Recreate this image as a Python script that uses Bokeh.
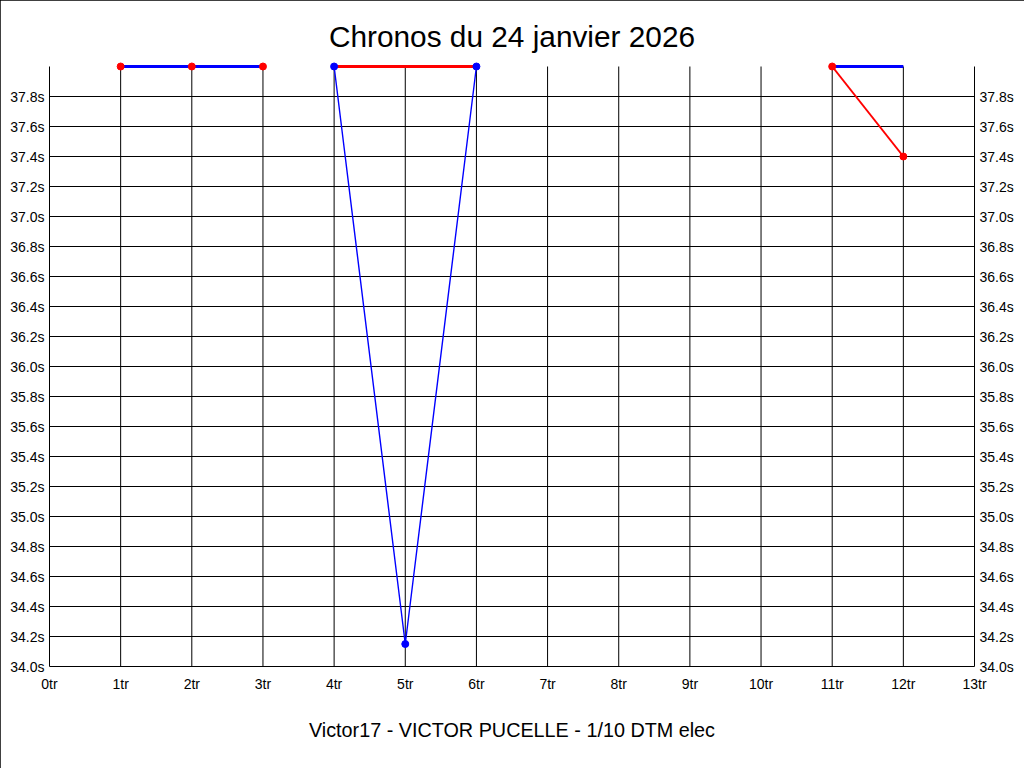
from bokeh.plotting import figure
from bokeh.models import Range1d, FixedTicker, PrintfTickFormatter, LinearAxis, Title
from bokeh.embed import file_html
from bokeh.resources import INLINE

# ---------------- data ----------------
title_text = "Chronos du 24 janvier 2026"
subtitle_text = "Victor17 - VICTOR PUCELLE - 1/10 DTM elec"

lap_ticks = [0, 1, 2, 3, 4, 5, 6, 7, 8, 9, 10, 11, 12, 13]
grid_laps = [1, 2, 3, 4, 5, 6, 7, 8, 9, 10, 11, 12]
time_ticks = [34.0, 34.2, 34.4, 34.6, 34.8, 35.0, 35.2, 35.4, 35.6, 35.8,
              36.0, 36.2, 36.4, 36.6, 36.8, 37.0, 37.2, 37.4, 37.6, 37.8]

lap_min, lap_max = 0, 13
time_min, time_max = 34.0, 38.0

# thin blue series (laps 4-6)
blue_laps = [4, 5, 6]
blue_times = [38.0, 34.15, 38.0]

# thin red series (laps 11-12)
red_laps = [11, 12]
red_times = [38.0, 37.4]

# red markers
red_dot_laps = [1, 2, 3, 11, 12]
red_dot_times = [38.0, 38.0, 38.0, 38.0, 37.4]

# thick segments along the ceiling
blue_top_from = [1, 11]
blue_top_to = [3, 12]
red_top_from = [4]
red_top_to = [6]

# ---------------- layout ----------------
px_per_lap = 925 / 13.0
px_per_sec = 150.0
pad_x = 3 / px_per_lap
x_start, x_end = lap_min - pad_x, lap_max + pad_x
y_start, y_end = time_min - 3 / px_per_sec, time_max + 6 / px_per_sec

FONT = "Liberation Sans"

p = figure(width=1024, height=768, x_range=Range1d(x_start, x_end),
           y_range=Range1d(y_start, y_end), output_backend="svg",
           toolbar_location=None,
           min_border_left=46, min_border_right=47,
           min_border_top=60, min_border_bottom=99)
p.outline_line_color = None
p.xgrid.visible = False
p.ygrid.visible = False
p.background_fill_color = "white"
p.border_fill_color = "white"
p.styles = {"outline": "1px solid black", "outline-offset": "-1px"}

p.title = Title(text=title_text, align="center", text_font=FONT,
                text_font_size="29.8px", text_font_style="normal",
                text_color="black", standoff=16)
p.add_layout(Title(text=subtitle_text, align="center", text_font=FONT,
                   text_font_size="19.8px", text_font_style="normal",
                   text_color="black", standoff=45), "below")


def style_axis(ax, fmt, standoff):
    ax.formatter = PrintfTickFormatter(format=fmt)
    ax.axis_line_color = None
    ax.major_tick_line_color = None
    ax.minor_tick_line_color = None
    ax.major_tick_out = 0
    ax.major_tick_in = 0
    ax.major_label_text_font = FONT
    ax.major_label_text_font_size = "14px"
    ax.major_label_text_color = "black"
    ax.major_label_standoff = standoff


xaxis = p.xaxis[0]
xaxis.ticker = FixedTicker(ticks=lap_ticks)
style_axis(xaxis, "%dtr", 6)

yaxis = p.yaxis[0]
yaxis.ticker = FixedTicker(ticks=time_ticks)
style_axis(yaxis, "%.1fs", 2)

raxis = LinearAxis(ticker=FixedTicker(ticks=time_ticks))
style_axis(raxis, "%.1fs", 2)
p.add_layout(raxis, "right")

# horizontal grid lines
p.segment(x0=[lap_min] * len(time_ticks), x1=[lap_max] * len(time_ticks),
          y0=time_ticks, y1=time_ticks, line_color="black", line_width=1)
# vertical grid lines
p.segment(x0=grid_laps, x1=grid_laps, y0=[time_min] * len(grid_laps),
          y1=[time_max] * len(grid_laps), line_color="black", line_width=1)
# axis frame lines (left, right)
p.segment(x0=[lap_min, lap_max], x1=[lap_min, lap_max], y0=[time_min, time_min],
          y1=[time_max, time_max], line_color="black", line_width=1)

# thick ceiling segments
p.segment(x0=blue_top_from, x1=blue_top_to, y0=[time_max] * len(blue_top_from),
          y1=[time_max] * len(blue_top_from), line_color="#0000ff", line_width=3)
p.segment(x0=red_top_from, x1=red_top_to, y0=[time_max] * len(red_top_from),
          y1=[time_max] * len(red_top_from), line_color="#ff0000", line_width=3)

# thin series lines
p.line(blue_laps, blue_times, line_color="#0000ff", line_width=1.4)
p.line(red_laps, red_times, line_color="#ff0000", line_width=2)

# markers
p.scatter(blue_laps, blue_times, size=7, fill_color="#0000ff", line_color="#0000ff")
p.scatter(red_dot_laps, red_dot_times, size=7, fill_color="#ff0000", line_color="#ff0000")

open("out.html", "w").write(file_html(p, INLINE))
